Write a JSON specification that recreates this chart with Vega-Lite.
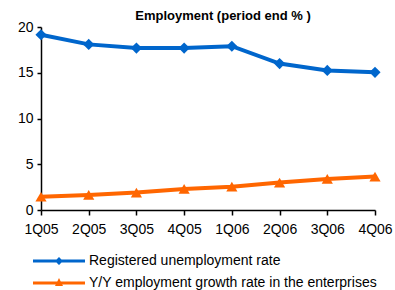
{
  "$schema": "https://vega.github.io/schema/vega-lite/v6.json",
  "width": 334,
  "height": 183,
  "autosize": {"type": "none"},
  "padding": {"left": 41, "top": 27, "right": 20, "bottom": 80},
  "background": "white",
  "config": {"view": {"stroke": null}, "font": "Liberation Sans"},
  "title": {"text": "Employment (period end % )", "fontSize": 13, "font": "Liberation Sans", "fontWeight": "bold", "color": "black", "anchor": "middle", "offset": -3, "dx": 15},
  "data": {"values": [
    {"q": "1Q05", "series": "Registered unemployment rate", "v": 19.15},
    {"q": "2Q05", "series": "Registered unemployment rate", "v": 18.1},
    {"q": "3Q05", "series": "Registered unemployment rate", "v": 17.7},
    {"q": "4Q05", "series": "Registered unemployment rate", "v": 17.7},
    {"q": "1Q06", "series": "Registered unemployment rate", "v": 17.9},
    {"q": "2Q06", "series": "Registered unemployment rate", "v": 16.0},
    {"q": "3Q06", "series": "Registered unemployment rate", "v": 15.25},
    {"q": "4Q06", "series": "Registered unemployment rate", "v": 15.05},
    {"q": "1Q05", "series": "Y/Y employment growth rate in the enterprises", "v": 1.45},
    {"q": "2Q05", "series": "Y/Y employment growth rate in the enterprises", "v": 1.65},
    {"q": "3Q05", "series": "Y/Y employment growth rate in the enterprises", "v": 1.9},
    {"q": "4Q05", "series": "Y/Y employment growth rate in the enterprises", "v": 2.3},
    {"q": "1Q06", "series": "Y/Y employment growth rate in the enterprises", "v": 2.55},
    {"q": "2Q06", "series": "Y/Y employment growth rate in the enterprises", "v": 3.0},
    {"q": "3Q06", "series": "Y/Y employment growth rate in the enterprises", "v": 3.4},
    {"q": "4Q06", "series": "Y/Y employment growth rate in the enterprises", "v": 3.65}
  ]},
  "encoding": {
    "x": {"field": "q", "type": "ordinal", "sort": null, "scale": {"type": "point", "padding": 0},
      "axis": {"title": null, "labelAngle": 0, "labelFontSize": 14, "labelColor": "black", "domainColor": "black", "tickColor": "black", "tickSize": 5, "labelPadding": 7, "grid": false, "domainWidth": 1.5, "tickWidth": 1.5}},
    "y": {"field": "v", "type": "quantitative", "scale": {"domain": [0, 20], "nice": false},
      "axis": {"title": null, "values": [0, 5, 10, 15, 20], "labelFontSize": 14, "labelColor": "black", "domainColor": "black", "tickColor": "black", "tickSize": 4, "labelPadding": 4, "grid": false, "domainWidth": 1.5, "tickWidth": 1.5}},
    "color": {"field": "series", "type": "nominal",
      "scale": {"domain": ["Registered unemployment rate", "Y/Y employment growth rate in the enterprises"], "range": ["#0066CC", "#FF6600"]},
      "legend": {"title": null, "orient": "none", "legendX": 11, "legendY": 227, "padding": 0, "labelFontSize": 14, "labelColor": "black", "labelOffset": 23, "labelLimit": 400, "rowPadding": 8, "symbolSize": 100, "symbolStrokeWidth": 0,
        "encode": {"symbols": {"update": {
          "shape": {"signal": "datum.value == 'Registered unemployment rate' ? 'M-5.2,-0.3H-0.5L0,-0.8L0.5,-0.3H5.2V0.3H0.5L0,0.8L-0.5,0.3H-5.2Z' : 'M-5.2,-0.3H-0.35L0,-1L0.35,-0.3H5.2V0.3H0.65L0.8,0.6H-0.8L-0.65,0.3H-5.2Z'"},
          "size": {"value": 100},
          "fill": {"scale": "color", "field": "value"},
          "strokeWidth": {"value": 0},
          "opacity": {"value": 1}
        }}}}}
  },
  "layer": [
    {"mark": {"type": "line", "strokeWidth": 4}},
    {"transform": [{"filter": "datum.series == 'Registered unemployment rate'"}],
      "mark": {"type": "point", "filled": true, "opacity": 1, "size": 125, "shape": "diamond"}},
    {"transform": [{"filter": "datum.series != 'Registered unemployment rate'"}],
      "mark": {"type": "point", "filled": true, "opacity": 1, "size": 125, "shape": "triangle-up"}}
  ]
}
